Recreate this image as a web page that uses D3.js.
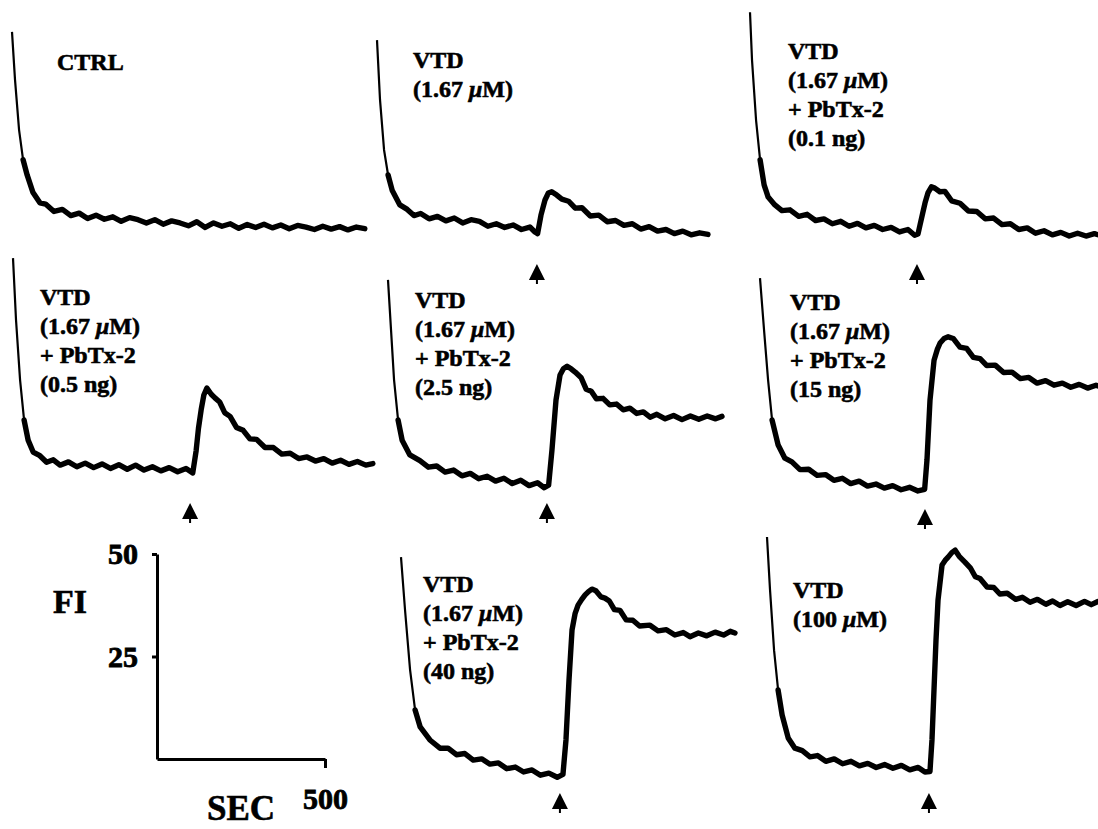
<!DOCTYPE html>
<html>
<head>
<meta charset="utf-8">
<script src="https://cdn.jsdelivr.net/npm/d3@7"></script>
<style>
  html, body { margin: 0; padding: 0; background: #fff; }
  svg { display: block; }
  text { font-family: "Liberation Serif", "Times New Roman", serif; font-weight: bold; fill: #000; stroke: #000; stroke-width: 0.6px; }
</style>
</head>
<body>
<svg id="chart" width="1098" height="829"></svg>
<script>
// ---------------- DATA (seconds, fluorescence intensity FI) ----------------
const ctrlT = [0,9,21,33,45,62,83,100,125,150,175,200,225,250,275,300,325,350,375,400,425,450,475,500,525,550,575,600,625,650,675,700,725,750,775,800,825,850,875,900,925,950,975,1000,1025,1050];
const ctrlV = [53.2,41.5,29.3,22.0,18.3,14.1,11.5,11.2,9.4,9.9,8.4,9.0,7.7,8.5,7.5,8.1,7.0,7.9,7.4,6.6,7.4,6.3,7.1,6.6,5.9,6.9,5.5,6.6,5.8,6.4,5.3,6.2,5.5,6.3,5.4,6.1,5.2,6.0,5.6,5.0,5.8,5.1,5.7,4.9,5.6,5.2];

const vtdT = [0,9,21,33,45,68,90,110,130,155,180,205,230,255,280,305,330,355,380,405,430,455,470,478,488,500,510,520,535,550,570,590,610,635,660,685,710,735,760,785,810,835,860,885,910,935,960,985];
const vtdV = [51.2,36.6,24.4,18.3,14.6,11.0,9.9,8.4,8.9,7.6,8.2,7.1,7.8,6.6,7.4,7.0,5.8,6.4,5.5,6.1,5.0,5.6,4.4,4.0,8.5,12.2,13.9,14.2,13.4,12.4,11.9,10.2,10.3,8.3,8.5,6.9,7.2,6.0,6.4,5.1,5.7,4.6,5.0,4.0,4.6,3.7,4.2,3.8];

const pb01T = [0,6,18,30,42,54,74,95,119,145,170,195,220,245,270,295,320,345,370,395,420,445,470,490,500,506,514,521,530,540,550,565,580,600,625,650,675,700,725,750,775,800,825,850,875,900,925,950,975,1000,1025,1040];
const pb01V = [58.0,46.3,31.7,22.0,15.9,12.9,11.0,9.6,9.8,8.2,8.7,7.2,7.6,6.4,7.0,5.8,6.5,5.4,6.0,5.0,5.5,4.4,5.0,3.6,3.9,6.1,9.0,11.5,14.0,15.4,15.1,14.2,14.3,12.0,11.4,9.5,9.4,7.6,7.8,6.2,6.4,5.0,5.4,4.1,4.7,3.7,4.3,3.4,4.1,3.4,4.0,3.6];

const pb05T = [0,9,21,33,45,60,80,100,120,140,165,190,215,240,265,290,315,340,365,390,415,440,465,490,515,535,545,552,560,568,577,590,601,615,630,646,665,685,705,725,750,775,800,825,850,875,900,925,950,975,1000,1025,1050,1071];
const pb05V = [59.0,43.9,29.3,19.5,14.6,11.7,10.8,9.2,9.8,8.5,9.3,8.1,9.0,7.9,8.8,7.7,8.6,7.5,8.5,7.3,8.1,7.1,7.9,6.9,7.7,6.6,12.0,17.5,22.0,25.6,27.3,25.8,24.9,23.9,21.3,20.4,17.7,17.0,14.9,14.8,12.8,12.8,11.2,11.4,10.1,10.5,9.5,10.1,9.0,9.7,8.7,9.4,8.5,8.9];

const pb25T = [0,9,18,30,42,65,95,120,145,170,195,220,245,270,295,320,345,370,395,420,445,465,478,488,500,512,522,533,545,557,575,590,605,620,640,660,680,700,720,740,760,780,800,825,850,875,900,925,950,975,994];
const pb25V = [53.7,41.5,29.3,19.5,14.6,11.0,9.6,8.0,8.3,6.8,7.3,5.9,6.5,5.2,5.8,4.6,5.3,4.0,4.8,3.5,4.2,3.0,3.6,12.2,24.4,30.5,32.0,32.6,32.0,31.2,29.8,27.0,26.5,24.7,24.8,23.2,23.4,22.0,22.4,21.1,21.5,20.2,20.9,19.8,20.6,19.6,20.5,19.7,20.5,19.8,20.4];

const pb15T = [0,12,24,36,54,74,95,119,145,170,195,220,245,270,295,320,345,370,395,420,445,470,490,497,506,518,528,536,548,560,575,595,615,635,655,675,700,725,750,775,800,825,850,875,900,925,950,975,1000,1020];
const pb15V = [54.1,41.5,29.3,19.5,13.4,10.2,9.3,7.4,7.5,6.0,6.2,4.8,5.3,4.0,4.6,3.4,3.9,2.9,3.5,2.5,3.1,2.2,2.6,9.8,24.4,34.1,36.8,38.3,39.4,39.8,39.4,37.3,37.0,34.8,34.5,32.8,32.9,31.1,31.2,29.6,29.9,28.5,29.1,28.0,28.5,27.5,28.2,27.3,28.0,27.4];

const pb40T = [0,12,27,42,57,86,116,140,165,190,215,240,265,290,315,340,365,390,415,440,465,482,491,500,509,518,527,538,548,558,568,580,595,607,620,635,652,670,690,710,741,765,790,815,840,860,885,910,935,960,980,994];
const pb40V = [56.8,43.9,29.3,19.5,15.4,12.2,10.2,10.2,8.6,8.9,7.3,7.6,6.3,6.6,5.2,5.6,4.4,4.9,3.6,4.1,3.1,3.8,12.2,26.8,39.0,43.0,45.1,46.5,47.6,48.4,49.0,48.6,47.1,46.8,46.1,44.0,43.8,41.5,41.4,40.0,40.2,38.8,39.1,37.8,38.4,37.4,38.3,37.6,38.5,37.8,38.7,38.3];

const vtd100T = [0,9,21,33,45,63,83,105,128,150,175,200,225,250,275,300,325,350,375,400,425,450,470,485,491,497,503,509,521,530,539,550,560,572,589,605,620,634,655,675,693,715,740,760,783,805,830,850,872,895,920,945,965,985,1000];
const vtd100V = [61.7,48.8,34.1,24.4,18.3,12.7,10.2,9.6,8.1,8.4,7.0,7.6,6.4,7.0,5.9,6.5,5.5,6.2,5.3,6.0,4.9,5.5,4.4,4.5,12.2,24.4,36.6,46.3,54.9,56.0,56.8,57.9,58.5,57.0,55.6,54.2,52.0,51.6,49.5,49.4,47.8,48.0,46.5,47.0,45.8,46.5,45.3,46.1,45.0,45.9,45.0,46.0,45.2,46.0,45.5];

// Injection (arrow) times, seconds
const injectionTimes = [null, 476, 497, 527, 473, 491, 473, 482];

// Panel labels
const panelLabels = [
  ["CTRL"],
  ["VTD", "(1.67 μM)"],
  ["VTD", "(1.67 μM)", "+ PbTx-2", "(0.1 ng)"],
  ["VTD", "(1.67 μM)", "+ PbTx-2", "(0.5 ng)"],
  ["VTD", "(1.67 μM)", "+ PbTx-2", "(2.5 ng)"],
  ["VTD", "(1.67 μM)", "+ PbTx-2", "(15 ng)"],
  ["VTD", "(1.67 μM)", "+ PbTx-2", "(40 ng)"],
  ["VTD", "(100 μM)"]
];

// Scale bar
const fiTicks = [25, 50];
const secTicks = [500];
const fiLabel = "FI";
const secLabel = "SEC";

// ---------------- LAYOUT ----------------
const svg = d3.select("#chart");
const PX_PER_FI = 4.1, PX_PER_SEC = 0.336;

// per panel: trace origin (x at t=0, y at FI=0), label pos, arrow tip y
const layout = [
  {x0: 12,  y0: 250, lx: 57,  ly: 70,  ay: null},
  {x0: 377, y0: 250, lx: 413, ly: 68,  ay: 264},
  {x0: 750, y0: 250, lx: 788, ly: 59,  ay: 264},
  {x0: 13,  y0: 500, lx: 40,  ly: 305, ay: 503},
  {x0: 388, y0: 500, lx: 415, ly: 308, ay: 503},
  {x0: 760, y0: 500, lx: 790, ly: 310, ay: 509},
  {x0: 401, y0: 790, lx: 423, ly: 592, ay: 793},
  {x0: 767, y0: 790, lx: 793, ly: 598, ay: 793}
];

const series = [
  [ctrlT, ctrlV], [vtdT, vtdV], [pb01T, pb01V], [pb05T, pb05V],
  [pb25T, pb25V], [pb15T, pb15V], [pb40T, pb40V], [vtd100T, vtd100V]
];

series.forEach(([T, V], i) => {
  const L = layout[i];
  const x = d3.scaleLinear().domain([0, 500]).range([L.x0, L.x0 + 500 * PX_PER_SEC]);
  const y = d3.scaleLinear().domain([0, 50]).range([L.y0, L.y0 - 50 * PX_PER_FI]);
  const pts = T.map((t, k) => [t, V[k]]);
  const line = d3.line().x(d => x(d[0])).y(d => y(d[1]));
  const g = svg.append("g");
  // thin initial decay
  g.append("path")
    .datum(pts.filter(d => d[0] <= 50))
    .attr("fill", "none").attr("stroke", "#000")
    .attr("stroke-width", 2.2).attr("stroke-linejoin", "round")
    .attr("d", line);
  // noisy recording band
  g.append("path")
    .datum(pts.filter(d => d[0] >= 30))
    .attr("fill", "none").attr("stroke", "#000")
    .attr("stroke-width", 5.4).attr("stroke-linejoin", "round").attr("stroke-linecap", "round")
    .attr("d", line);

  // label
  const txt = g.append("text").attr("x", L.lx).attr("y", L.ly).style("font-size", "24px");
  panelLabels[i].forEach((ln, j) => {
    const ts = txt.append("tspan").attr("x", L.lx).attr("y", L.ly + j * 29);
    const parts = ln.split("μ");
    ts.append("tspan").text(parts[0]);
    if (parts.length > 1) {
      ts.append("tspan").style("font-style", "italic").text("μ");
      ts.append("tspan").text(parts[1]);
    }
  });

  // arrow
  if (injectionTimes[i] != null) {
    const ax = x(injectionTimes[i]);
    const ay = L.ay;
    g.append("path")
      .attr("d", `M${ax},${ay} L${ax + 8},${ay + 16} L${ax + 1},${ay + 16} L${ax + 1},${ay + 20} L${ax - 1},${ay + 20} L${ax - 1},${ay + 16} L${ax - 8},${ay + 16} Z`)
      .attr("fill", "#000");
  }
});

// ---------------- SCALE BAR ----------------
const sbY = d3.scaleLinear().domain([0, 50]).range([759, 554]);
const sbX = d3.scaleLinear().domain([0, 500]).range([157, 325]);

const yAxis = svg.append("g")
  .attr("transform", "translate(157,0)")
  .call(d3.axisLeft(sbY).tickValues(fiTicks).tickSize(5).tickSizeOuter(0).tickPadding(14).tickFormat(d3.format("d")));
const xAxis = svg.append("g")
  .attr("transform", "translate(0,759)")
  .call(d3.axisBottom(sbX).tickValues(secTicks).tickSize(9).tickSizeOuter(0).tickPadding(20).tickFormat(d3.format("d")));

[yAxis, xAxis].forEach(a => {
  a.select(".domain").attr("stroke", "#000").attr("stroke-width", 3);
  a.selectAll(".tick line").attr("stroke", "#000").attr("stroke-width", 3);
  a.selectAll(".tick text")
    .attr("fill", "#000")
    .style("font-family", '"Liberation Serif", "Times New Roman", serif')
    .style("font-weight", "bold")
    .style("stroke", "#000").style("stroke-width", "0.8px")
    .style("font-size", "30px");
});

svg.append("text").attr("x", 53).attr("y", 613).style("font-size", "34px").text(fiLabel);
svg.append("text").attr("x", 207).attr("y", 820).style("font-size", "35px").text(secLabel);
</script>
</body>
</html>
